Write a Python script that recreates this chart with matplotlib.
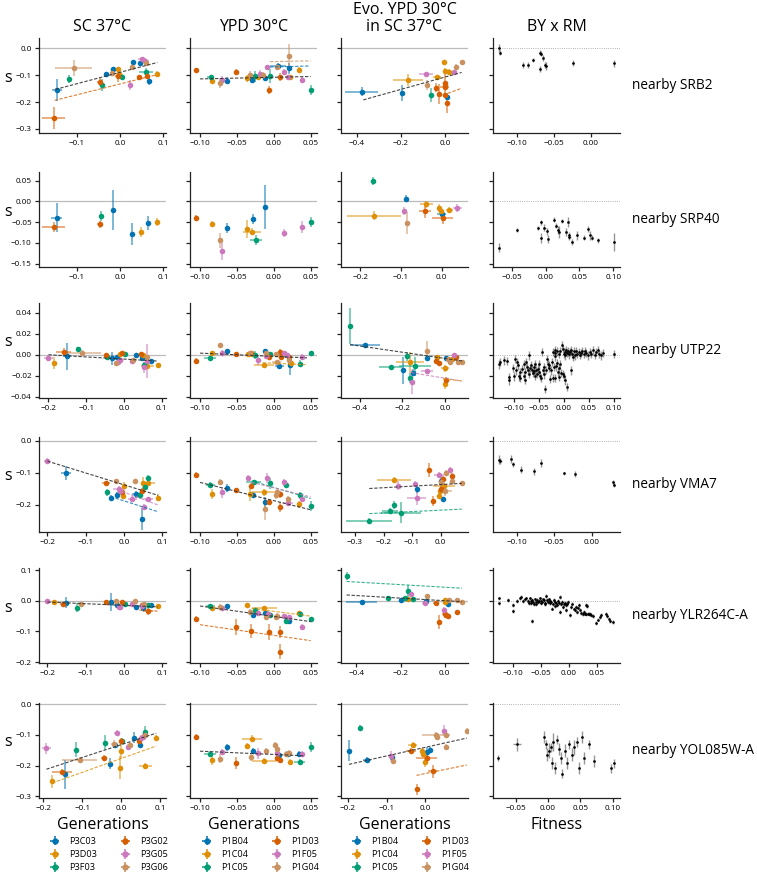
import numpy as np
import matplotlib
matplotlib.use('Agg')
import matplotlib.pyplot as plt
from matplotlib.ticker import FuncFormatter

plt.rcParams['font.family'] = ['Open Sans', 'DejaVu Sans']

W, H = 757, 876

strain_colors = {'b': '#0173B2', 'o': '#DE8F05', 'g': '#029E73',
                 'r': '#D55E00', 'p': '#CC78BC', 't': '#CA9161', 'k': '#333333'}

col_titles = ['SC 37°C', 'YPD 30°C', 'Evo. YPD 30°C\nin SC 37°C', 'BY x RM']
row_names = ['nearby SRB2', 'nearby SRP40', 'nearby UTP22', 'nearby VMA7',
             'nearby YLR264C-A', 'nearby YOL085W-A']
legend_p3 = ['P3C03', 'P3D03', 'P3F03', 'P3G02', 'P3G05', 'P3G06']
legend_p1 = ['P1B04', 'P1C04', 'P1C05', 'P1D03', 'P1F05', 'P1G04']
legend_keys = ['b', 'o', 'g', 'r', 'p', 't']

# (strain, x, y, xerr, yerr)
srb2_sc = [('b', -0.147, -0.155, 0.012, 0.042), ('r', -0.154, -0.26, 0.026, 0.041),
           ('t', -0.108, -0.074, 0.043, 0.031), ('g', -0.119, -0.114, 0.004, 0.015),
           ('r', -0.047, -0.126, 0.007, 0.015), ('g', -0.043, -0.136, 0.004, 0.022),
           ('b', -0.033, -0.095, 0.004, 0.008), ('t', -0.019, -0.093, 0.004, 0.008),
           ('b', -0.017, -0.077, 0.003, 0.008), ('o', -0.004, -0.077, 0.003, 0.008),
           ('o', -0.002, -0.095, 0.004, 0.01), ('r', -0.004, -0.105, 0.009, 0.022),
           ('g', 0.003, -0.106, 0.003, 0.01), ('p', 0.022, -0.136, 0.004, 0.019),
           ('t', 0.028, -0.068, 0.004, 0.01), ('b', 0.029, -0.051, 0.003, 0.008),
           ('r', 0.043, -0.108, 0.004, 0.01), ('b', 0.045, -0.056, 0.003, 0.008),
           ('p', 0.051, -0.041, 0.009, 0.008), ('p', 0.058, -0.047, 0.009, 0.008),
           ('t', 0.06, -0.056, 0.004, 0.01), ('g', 0.06, -0.087, 0.016, 0.012),
           ('r', 0.063, -0.103, 0.004, 0.01), ('b', 0.067, -0.12, 0.003, 0.015),
           ('o', 0.086, -0.095, 0.004, 0.01)]
srb2_ypd = [('r', -0.105, -0.081, 0.002, 0.008), ('g', -0.0856, -0.108, 0.005, 0.008),
            ('o', -0.084, -0.12, 0.002, 0.01), ('t', -0.073, -0.128, 0.003, 0.019),
            ('p', -0.07, -0.118, 0.002, 0.015), ('b', -0.0634, -0.12, 0.002, 0.012),
            ('r', -0.051, -0.089, 0.003, 0.01), ('o', -0.036, -0.112, 0.003, 0.012),
            ('t', -0.032, -0.1, 0.002, 0.015), ('b', -0.029, -0.118, 0.002, 0.012),
            ('g', -0.026, -0.105, 0.003, 0.02), ('o', -0.021, -0.108, 0.004, 0.01),
            ('p', -0.019, -0.097, 0.002, 0.015), ('t', -0.0145, -0.099, 0.002, 0.01),
            ('b', -0.012, -0.112, 0.002, 0.01), ('p', -0.0086, -0.071, 0.002, 0.01),
            ('g', -0.0054, -0.103, 0.002, 0.025), ('r', -0.0064, -0.155, 0.002, 0.015),
            ('b', 0.006, -0.066, 0.011, 0.01), ('t', 0.004, -0.07, 0.003, 0.01),
            ('r', 0.009, -0.108, 0.003, 0.015), ('p', 0.0136, -0.088, 0.002, 0.01),
            ('t', 0.0204, -0.029, 0.003, 0.045), ('b', 0.0208, -0.075, 0.002, 0.02),
            ('p', 0.0195, -0.108, 0.002, 0.01), ('o', 0.022, -0.108, 0.003, 0.01),
            ('o', 0.034, -0.081, 0.002, 0.01), ('p', 0.0376, -0.118, 0.002, 0.01),
            ('g', 0.05, -0.155, 0.002, 0.018)]
srb2_evo = [('b', -0.377, -0.161, 0.075, 0.018), ('b', -0.196, -0.165, 0.009, 0.03),
            ('o', -0.166, -0.118, 0.068, 0.022), ('p', -0.086, -0.096, 0.03, 0.008),
            ('t', -0.083, -0.136, 0.008, 0.018), ('g', -0.065, -0.174, 0.006, 0.026),
            ('r', -0.041, -0.146, 0.008, 0.015), ('o', -0.035, -0.108, 0.018, 0.01),
            ('r', -0.026, -0.17, 0.01, 0.037), ('o', -0.005, -0.051, 0.005, 0.008),
            ('o', 0.0, -0.083, 0.005, 0.01), ('r', 0.0, -0.13, 0.005, 0.033),
            ('r', 0.0, -0.145, 0.02, 0.01), ('o', 0.002, -0.136, 0.008, 0.015),
            ('r', 0.001, -0.174, 0.008, 0.01), ('b', 0.01, -0.18, 0.005, 0.01),
            ('r', 0.012, -0.205, 0.006, 0.037), ('o', 0.017, -0.088, 0.005, 0.01),
            ('p', 0.041, -0.09, 0.008, 0.008), ('t', 0.05, -0.068, 0.008, 0.01),
            ('t', 0.077, -0.051, 0.005, 0.008)]

srp40_sc = [('b', -0.147, -0.039, 0.012, 0.035), ('r', -0.154, -0.062, 0.026, 0.012),
            ('g', -0.043, -0.036, 0.003, 0.012), ('r', -0.047, -0.055, 0.006, 0.008),
            ('b', -0.017, -0.02, 0.003, 0.048), ('b', 0.029, -0.078, 0.003, 0.027),
            ('o', 0.049, -0.073, 0.003, 0.012), ('b', 0.066, -0.052, 0.003, 0.018),
            ('o', 0.086, -0.05, 0.003, 0.01)]
srp40_ypd = [('r', -0.105, -0.04, 0.002, 0.008), ('o', -0.084, -0.054, 0.002, 0.008),
             ('b', -0.064, -0.064, 0.002, 0.012), ('t', -0.073, -0.094, 0.002, 0.017),
             ('p', -0.07, -0.119, 0.002, 0.022), ('o', -0.036, -0.066, 0.002, 0.022),
             ('o', -0.0295, -0.073, 0.012, 0.008), ('b', -0.028, -0.043, 0.002, 0.012),
             ('g', -0.0245, -0.092, 0.008, 0.012), ('b', -0.012, -0.013, 0.002, 0.053),
             ('p', 0.014, -0.076, 0.002, 0.01), ('p', 0.038, -0.062, 0.002, 0.015),
             ('g', 0.05, -0.05, 0.002, 0.012)]
srp40_evo = [('g', -0.168, 0.05, 0.004, 0.01), ('o', -0.166, -0.034, 0.067, 0.01),
             ('b', -0.088, 0.007, 0.004, 0.008), ('p', -0.093, -0.023, 0.004, 0.01),
             ('t', -0.084, -0.052, 0.004, 0.027), ('o', -0.037, -0.007, 0.015, 0.008),
             ('r', -0.041, -0.024, 0.015, 0.015), ('o', -0.006, -0.015, 0.004, 0.01),
             ('o', -0.002, -0.024, 0.004, 0.008), ('b', 0.0, -0.03, 0.012, 0.008),
             ('r', 0.0025, -0.039, 0.026, 0.015), ('o', 0.019, -0.02, 0.008, 0.006),
             ('p', 0.039, -0.015, 0.012, 0.01)]

utp22_sc = [('p', -0.2, -0.003, 0.011, 0.003), ('o', -0.184, -0.008, 0.003, 0.006),
            ('r', -0.16, 0.003, 0.02, 0.003), ('b', -0.151, -0.0016, 0.011, 0.013),
            ('g', -0.123, 0.005, 0.003, 0.002), ('t', -0.111, 0.0015, 0.051, 0.003),
            ('r', -0.047, -0.0007, 0.005, 0.002), ('g', -0.045, -0.002, 0.003, 0.002),
            ('b', -0.033, -0.0035, 0.003, 0.0065), ('t', -0.02, -0.008, 0.003, 0.002),
            ('b', -0.018, -0.0025, 0.003, 0.002), ('p', -0.015, -0.007, 0.004, 0.003),
            ('p', -0.01, -0.005, 0.004, 0.003), ('o', -0.01, 0.001, 0.003, 0.002),
            ('r', -0.005, 0.0015, 0.003, 0.002), ('g', 0.003, 0.001, 0.003, 0.002),
            ('b', 0.031, -0.0007, 0.003, 0.002), ('t', 0.025, -0.005, 0.003, 0.002),
            ('p', 0.02, -0.006, 0.003, 0.002), ('r', 0.046, 0.001, 0.003, 0.002),
            ('b', 0.047, -0.003, 0.003, 0.002), ('o', 0.05, 0.0, 0.003, 0.002),
            ('p', 0.052, -0.012, 0.003, 0.005), ('g', 0.054, -0.01, 0.003, 0.003),
            ('p', 0.062, -0.006, 0.003, 0.016), ('o', 0.062, -0.011, 0.016, 0.003),
            ('t', 0.062, -0.002, 0.003, 0.002), ('b', 0.071, -0.006, 0.003, 0.002),
            ('o', 0.089, -0.01, 0.003, 0.002)]
utp22_ypd = [('r', -0.105, -0.006, 0.002, 0.003), ('g', -0.086, -0.003, 0.008, 0.002),
             ('o', -0.084, 0.0015, 0.002, 0.002), ('t', -0.073, 0.009, 0.002, 0.002),
             ('p', -0.07, 0.0015, 0.002, 0.003), ('b', -0.063, 0.0035, 0.002, 0.002),
             ('r', -0.051, 0.001, 0.002, 0.002), ('o', -0.035, 0.001, 0.003, 0.002),
             ('t', -0.032, 0.002, 0.002, 0.002), ('r', -0.031, 0.0015, 0.002, 0.002),
             ('o', -0.03, 0.0005, 0.003, 0.002), ('g', -0.026, 0.0, 0.002, 0.004),
             ('p', -0.021, -0.005, 0.002, 0.005), ('o', -0.0132, -0.01, 0.014, 0.002),
             ('b', -0.012, 0.0035, 0.002, 0.002), ('t', -0.011, 0.002, 0.002, 0.002),
             ('p', -0.01, -0.0015, 0.002, 0.002), ('g', -0.005, 0.001, 0.002, 0.002),
             ('r', -0.006, -0.002, 0.002, 0.002), ('t', 0.0025, 0.001, 0.002, 0.002),
             ('t', 0.004, -0.007, 0.006, 0.002), ('b', 0.0072, -0.0105, 0.006, 0.002),
             ('r', 0.008, 0.003, 0.002, 0.002), ('r', 0.0095, -0.002, 0.002, 0.003),
             ('p', 0.0136, 0.0015, 0.002, 0.002), ('g', 0.016, -0.0007, 0.002, 0.002),
             ('p', 0.018, 0.0, 0.002, 0.002), ('r', 0.02, -0.002, 0.002, 0.002),
             ('t', 0.021, -0.005, 0.002, 0.003), ('b', 0.0217, -0.0102, 0.002, 0.009),
             ('o', 0.0235, -0.008, 0.004, 0.002), ('g', 0.035, -0.0085, 0.002, 0.003),
             ('p', 0.0376, -0.002, 0.002, 0.003), ('g', 0.05, 0.0015, 0.002, 0.002)]
utp22_evo = [('g', -0.445, 0.027, 0.004, 0.017), ('b', -0.377, 0.0095, 0.07, 0.002),
             ('g', -0.256, -0.012, 0.055, 0.002), ('b', -0.197, -0.015, 0.009, 0.013),
             ('g', -0.181, -0.0016, 0.009, 0.004), ('o', -0.166, -0.007, 0.065, 0.01),
             ('g', -0.167, -0.022, 0.006, 0.005), ('g', -0.143, -0.011, 0.075, 0.009),
             ('b', -0.152, -0.017, 0.006, 0.003), ('p', -0.155, -0.026, 0.006, 0.011),
             ('p', -0.085, -0.0156, 0.028, 0.002), ('t', -0.085, 0.004, 0.006, 0.0095),
             ('b', -0.085, -0.003, 0.006, 0.002), ('o', -0.036, -0.002, 0.006, 0.002),
             ('r', -0.045, -0.006, 0.006, 0.002), ('r', -0.028, -0.008, 0.006, 0.002),
             ('b', 0.003, -0.003, 0.006, 0.002), ('o', 0.0, -0.013, 0.02, 0.003),
             ('r', 0.005, -0.0245, 0.006, 0.003), ('o', 0.0, -0.0275, 0.006, 0.005),
             ('t', 0.015, -0.004, 0.006, 0.002), ('t', 0.025, -0.007, 0.006, 0.002),
             ('o', 0.03, -0.004, 0.006, 0.002), ('p', 0.04, 0.0, 0.006, 0.002),
             ('r', 0.053, -0.002, 0.006, 0.002), ('t', 0.058, -0.007, 0.006, 0.002),
             ('t', 0.078, -0.007, 0.006, 0.002)]

vma7_sc = [('p', -0.2, -0.064, 0.008, 0.01), ('b', -0.151, -0.1015, 0.013, 0.021),
           ('r', -0.047, -0.133, 0.011, 0.008), ('g', -0.044, -0.161, 0.004, 0.01),
           ('b', -0.033, -0.177, 0.004, 0.008), ('t', -0.02, -0.127, 0.004, 0.008),
           ('b', -0.018, -0.169, 0.004, 0.008), ('p', -0.013, -0.151, 0.016, 0.01),
           ('p', -0.01, -0.158, 0.004, 0.01), ('r', -0.006, -0.161, 0.004, 0.01),
           ('o', -0.003, -0.171, 0.004, 0.01), ('o', 0.0, -0.14, 0.004, 0.01),
           ('p', 0.022, -0.182, 0.011, 0.01), ('b', 0.031, -0.167, 0.011, 0.01),
           ('t', 0.028, -0.127, 0.004, 0.008), ('g', 0.042, -0.17, 0.004, 0.01),
           ('r', 0.046, -0.158, 0.004, 0.01), ('o', 0.051, -0.133, 0.004, 0.02),
           ('g', 0.054, -0.144, 0.004, 0.01), ('b', 0.047, -0.245, 0.004, 0.034),
           ('p', 0.052, -0.207, 0.004, 0.01), ('g', 0.062, -0.116, 0.004, 0.008),
           ('o', 0.062, -0.132, 0.018, 0.01), ('p', 0.062, -0.182, 0.013, 0.008),
           ('o', 0.089, -0.177, 0.004, 0.01)]
vma7_ypd = [('r', -0.105, -0.1057, 0.002, 0.008), ('g', -0.086, -0.137, 0.006, 0.008),
            ('o', -0.084, -0.167, 0.002, 0.016), ('t', -0.073, -0.128, 0.002, 0.01),
            ('p', -0.07, -0.161, 0.002, 0.016), ('b', -0.063, -0.148, 0.002, 0.013),
            ('r', -0.051, -0.154, 0.002, 0.008), ('p', -0.035, -0.116, 0.002, 0.008),
            ('r', -0.031, -0.141, 0.002, 0.008), ('o', -0.0326, -0.165, 0.002, 0.022),
            ('g', -0.027, -0.13, 0.01, 0.008), ('b', -0.028, -0.169, 0.002, 0.01),
            ('p', -0.009, -0.116, 0.002, 0.016), ('o', -0.013, -0.161, 0.016, 0.01),
            ('b', -0.012, -0.19, 0.002, 0.016), ('t', -0.012, -0.214, 0.002, 0.032),
            ('g', -0.005, -0.133, 0.002, 0.016), ('r', -0.006, -0.19, 0.002, 0.01),
            ('t', 0.0025, -0.17, 0.002, 0.01), ('t', 0.005, -0.161, 0.002, 0.01),
            ('r', 0.008, -0.167, 0.002, 0.01), ('r', 0.009, -0.207, 0.002, 0.016),
            ('p', 0.0136, -0.13, 0.002, 0.01), ('g', 0.016, -0.137, 0.002, 0.01),
            ('t', 0.0195, -0.182, 0.002, 0.01), ('p', 0.0195, -0.193, 0.007, 0.01),
            ('o', 0.034, -0.198, 0.002, 0.01), ('g', 0.035, -0.17, 0.002, 0.01),
            ('p', 0.0376, -0.182, 0.002, 0.01), ('g', 0.05, -0.203, 0.002, 0.016)]
vma7_evo = [('g', -0.25, -0.249, 0.081, 0.01), ('o', -0.164, -0.122, 0.06, 0.008),
            ('p', -0.149, -0.14, 0.006, 0.015), ('g', -0.178, -0.219, 0.028, 0.008),
            ('g', -0.164, -0.2, 0.006, 0.013), ('g', -0.14, -0.224, 0.07, 0.032),
            ('p', -0.09, -0.135, 0.006, 0.008), ('b', -0.084, -0.149, 0.006, 0.013),
            ('p', -0.084, -0.179, 0.032, 0.022), ('r', -0.04, -0.091, 0.006, 0.022),
            ('r', -0.026, -0.188, 0.006, 0.015), ('p', -0.005, -0.107, 0.017, 0.008),
            ('o', -0.005, -0.172, 0.006, 0.008), ('o', -0.002, -0.157, 0.006, 0.01),
            ('b', 0.001, -0.125, 0.006, 0.015), ('r', 0.0025, -0.149, 0.006, 0.008),
            ('t', 0.002, -0.13, 0.006, 0.008), ('r', 0.008, -0.118, 0.006, 0.008),
            ('b', 0.008, -0.183, 0.006, 0.008), ('o', 0.013, -0.14, 0.038, 0.008),
            ('t', 0.016, -0.157, 0.024, 0.015), ('t', 0.018, -0.1, 0.006, 0.008),
            ('p', 0.032, -0.091, 0.006, 0.008), ('r', 0.04, -0.109, 0.006, 0.008),
            ('t', 0.04, -0.127, 0.006, 0.008), ('t', 0.076, -0.133, 0.006, 0.008)]

ylr_sc = [('p', -0.2, -0.001, 0.006, 0.005), ('o', -0.182, -0.005, 0.004, 0.005),
          ('r', -0.16, -0.011, 0.006, 0.005), ('b', -0.151, -0.007, 0.006, 0.018),
          ('g', -0.123, -0.022, 0.004, 0.016), ('t', -0.111, -0.011, 0.01, 0.005),
          ('r', -0.047, -0.005, 0.006, 0.005), ('b', -0.033, -0.003, 0.004, 0.029),
          ('t', -0.02, 0.0, 0.004, 0.005), ('b', -0.018, -0.013, 0.004, 0.005),
          ('p', -0.013, -0.02, 0.004, 0.005), ('p', -0.01, -0.02, 0.004, 0.005),
          ('r', -0.006, -0.005, 0.004, 0.005), ('g', 0.003, -0.011, 0.004, 0.005),
          ('p', 0.022, -0.011, 0.004, 0.005), ('b', 0.031, -0.02, 0.004, 0.005),
          ('t', 0.028, 0.0, 0.004, 0.005), ('r', 0.046, -0.014, 0.004, 0.005),
          ('p', 0.048, -0.018, 0.004, 0.005), ('b', 0.05, -0.024, 0.004, 0.005),
          ('t', 0.052, -0.009, 0.004, 0.005), ('g', 0.062, -0.014, 0.004, 0.005),
          ('r', 0.064, -0.033, 0.013, 0.012), ('b', 0.071, -0.014, 0.004, 0.005),
          ('o', 0.089, -0.017, 0.004, 0.005)]
ylr_ypd = [('r', -0.105, -0.058, 0.002, 0.008), ('g', -0.086, -0.0175, 0.006, 0.008),
           ('o', -0.084, -0.025, 0.002, 0.008), ('t', -0.073, -0.02, 0.002, 0.008),
           ('p', -0.07, -0.025, 0.002, 0.008), ('b', -0.063, -0.017, 0.002, 0.008),
           ('r', -0.051, -0.086, 0.002, 0.027), ('o', -0.036, -0.015, 0.002, 0.008),
           ('t', -0.032, -0.035, 0.002, 0.008), ('r', -0.031, -0.1, 0.002, 0.023),
           ('b', -0.028, -0.045, 0.002, 0.008), ('g', -0.026, -0.031, 0.002, 0.008),
           ('p', -0.021, -0.04, 0.002, 0.008), ('o', -0.0132, -0.025, 0.017, 0.008),
           ('b', -0.012, -0.04, 0.002, 0.008), ('t', -0.011, -0.054, 0.002, 0.008),
           ('p', -0.008, -0.042, 0.002, 0.008), ('r', -0.006, -0.102, 0.002, 0.026),
           ('g', -0.005, -0.046, 0.002, 0.008), ('t', 0.0025, -0.054, 0.002, 0.008),
           ('t', 0.005, -0.048, 0.002, 0.008), ('r', 0.009, -0.102, 0.002, 0.02),
           ('r', 0.008, -0.166, 0.002, 0.025), ('p', 0.0136, -0.051, 0.002, 0.008),
           ('g', 0.016, -0.066, 0.002, 0.008), ('b', 0.018, -0.064, 0.002, 0.008),
           ('b', 0.02, -0.066, 0.002, 0.008), ('p', 0.021, -0.053, 0.002, 0.008),
           ('o', 0.034, -0.04, 0.002, 0.008), ('g', 0.035, -0.042, 0.002, 0.008),
           ('p', 0.0376, -0.084, 0.002, 0.008), ('g', 0.05, -0.06, 0.002, 0.008)]
ylr_evo = [('g', -0.445, 0.081, 0.004, 0.012), ('b', -0.377, -0.005, 0.07, 0.008),
           ('g', -0.256, 0.008, 0.006, 0.006), ('g', -0.181, 0.008, 0.006, 0.006),
           ('b', -0.197, 0.003, 0.006, 0.006), ('g', -0.167, 0.033, 0.006, 0.02),
           ('p', -0.155, 0.021, 0.006, 0.008), ('g', -0.143, 0.005, 0.006, 0.006),
           ('o', -0.166, 0.005, 0.006, 0.006), ('b', -0.085, 0.0, 0.006, 0.006),
           ('p', -0.088, -0.006, 0.015, 0.006), ('t', -0.082, 0.015, 0.006, 0.006),
           ('r', -0.04, -0.007, 0.015, 0.006), ('o', 0.0, 0.002, 0.006, 0.006),
           ('b', 0.013, -0.012, 0.006, 0.008), ('r', -0.026, -0.069, 0.006, 0.024),
           ('p', -0.005, -0.029, 0.006, 0.008), ('r', 0.0, -0.043, 0.012, 0.012),
           ('r', 0.006, -0.046, 0.006, 0.008), ('r', 0.014, -0.051, 0.006, 0.008),
           ('o', 0.003, -0.003, 0.006, 0.006), ('t', 0.02, 0.002, 0.006, 0.006),
           ('r', 0.053, -0.038, 0.006, 0.008), ('t', 0.053, 0.004, 0.006, 0.006),
           ('t', 0.078, -0.003, 0.006, 0.006)]

yol_sc = [('p', -0.192, -0.144, 0.012, 0.017), ('o', -0.177, -0.252, 0.005, 0.02),
          ('r', -0.152, -0.221, 0.026, 0.01), ('b', -0.145, -0.229, 0.006, 0.046),
          ('g', -0.117, -0.148, 0.004, 0.024), ('t', -0.106, -0.181, 0.045, 0.01),
          ('g', -0.041, -0.125, 0.004, 0.024), ('r', -0.044, -0.175, 0.008, 0.01),
          ('b', -0.03, -0.194, 0.004, 0.018), ('t', -0.018, -0.128, 0.008, 0.01),
          ('b', -0.016, -0.132, 0.004, 0.01), ('p', -0.011, -0.092, 0.008, 0.008),
          ('o', 0.0, -0.152, 0.004, 0.028), ('o', -0.003, -0.207, 0.004, 0.038),
          ('r', -0.001, -0.12, 0.004, 0.01), ('g', 0.001, -0.12, 0.004, 0.01),
          ('p', 0.018, -0.138, 0.004, 0.01), ('t', 0.023, -0.133, 0.004, 0.01),
          ('b', 0.032, -0.109, 0.004, 0.018), ('r', 0.045, -0.12, 0.004, 0.01),
          ('b', 0.047, -0.133, 0.004, 0.01), ('p', 0.052, -0.109, 0.004, 0.01),
          ('p', 0.056, -0.105, 0.004, 0.01), ('g', 0.062, -0.089, 0.004, 0.017),
          ('t', 0.062, -0.1, 0.004, 0.01), ('o', 0.062, -0.2, 0.016, 0.01),
          ('o', 0.09, -0.11, 0.004, 0.01)]
yol_ypd = [('r', -0.105, -0.106, 0.002, 0.01), ('g', -0.086, -0.163, 0.008, 0.01),
           ('o', -0.084, -0.181, 0.002, 0.017), ('t', -0.073, -0.178, 0.002, 0.015),
           ('p', -0.07, -0.155, 0.002, 0.01), ('b', -0.063, -0.14, 0.002, 0.012),
           ('r', -0.051, -0.192, 0.002, 0.02), ('o', -0.036, -0.136, 0.002, 0.01),
           ('o', -0.0295, -0.112, 0.014, 0.012), ('t', -0.031, -0.173, 0.002, 0.012),
           ('b', -0.028, -0.152, 0.002, 0.01), ('p', -0.021, -0.16, 0.002, 0.017),
           ('o', -0.0132, -0.185, 0.017, 0.01), ('t', -0.011, -0.152, 0.002, 0.01),
           ('t', 0.002, -0.133, 0.002, 0.01), ('t', 0.005, -0.145, 0.002, 0.01),
           ('p', 0.005, -0.16, 0.002, 0.01), ('r', 0.004, -0.174, 0.002, 0.01),
           ('b', 0.007, -0.166, 0.002, 0.01), ('r', 0.009, -0.181, 0.002, 0.01),
           ('t', 0.017, -0.163, 0.002, 0.01), ('b', 0.0195, -0.163, 0.002, 0.01),
           ('o', 0.0225, -0.189, 0.002, 0.01), ('t', 0.02, -0.158, 0.002, 0.01),
           ('g', 0.035, -0.189, 0.007, 0.01), ('b', 0.034, -0.163, 0.002, 0.01),
           ('p', 0.0376, -0.163, 0.002, 0.01), ('g', 0.05, -0.14, 0.002, 0.017)]
yol_evo = [('b', -0.1975, -0.152, 0.004, 0.034), ('g', -0.169, -0.077, 0.003, 0.008),
           ('b', -0.1515, -0.181, 0.01, 0.01), ('p', -0.09, -0.169, 0.004, 0.017),
           ('b', -0.085, -0.173, 0.004, 0.01), ('t', -0.0825, -0.184, 0.004, 0.01),
           ('o', -0.033, -0.134, 0.012, 0.01), ('r', -0.037, -0.151, 0.012, 0.01),
           ('r', -0.023, -0.278, 0.004, 0.017), ('o', -0.008, -0.151, 0.004, 0.01),
           ('o', -0.005, -0.163, 0.004, 0.01), ('o', 0.0, -0.187, 0.004, 0.017),
           ('r', 0.003, -0.175, 0.027, 0.01), ('b', 0.005, -0.155, 0.004, 0.017),
           ('b', 0.0115, -0.15, 0.004, 0.01), ('r', 0.0185, -0.219, 0.012, 0.02),
           ('t', 0.027, -0.1, 0.037, 0.01), ('t', 0.03, -0.107, 0.004, 0.01),
           ('p', 0.0475, -0.086, 0.004, 0.017), ('t', 0.052, -0.1, 0.004, 0.01),
           ('t', 0.054, -0.138, 0.004, 0.01), ('t', 0.107, -0.086, 0.004, 0.01)]

# (x, y, xerr, yerr) for the BY x RM column
srb2_by = [(-0.124, 0.0, 0.001, 0.015), (-0.122, -0.016, 0.001, 0.008), (-0.092, -0.062, 0.001, 0.011),
           (-0.085, -0.062, 0.001, 0.011), (-0.0775, -0.043, 0.001, 0.008), (-0.0685, -0.016, 0.001, 0.008),
           (-0.067, -0.02, 0.001, 0.008), (-0.065, -0.037, 0.001, 0.01), (-0.069, -0.078, 0.001, 0.011),
           (-0.062, -0.062, 0.002, 0.011), (-0.06, -0.065, 0.001, 0.015), (-0.024, -0.056, 0.001, 0.011),
           (0.031, -0.056, 0.001, 0.012)]
srp40_by = [(-0.069, -0.111, 0.001, 0.01), (-0.043, -0.068, 0.001, 0.005), (-0.012, -0.063, 0.001, 0.005),
            (-0.007, -0.05, 0.001, 0.006), (-0.007, -0.088, 0.001, 0.012), (-0.002, -0.063, 0.002, 0.008),
            (0.0024, -0.072, 0.001, 0.008), (0.003, -0.09, 0.001, 0.01), (0.012, -0.044, 0.001, 0.006),
            (0.015, -0.059, 0.001, 0.006), (0.018, -0.068, 0.001, 0.01), (0.019, -0.074, 0.001, 0.014),
            (0.024, -0.048, 0.001, 0.005), (0.03, -0.074, 0.001, 0.01), (0.033, -0.05, 0.001, 0.012),
            (0.034, -0.082, 0.001, 0.008), (0.035, -0.086, 0.002, 0.006), (0.039, -0.098, 0.001, 0.008),
            (0.046, -0.082, 0.001, 0.01), (0.057, -0.088, 0.001, 0.006), (0.063, -0.066, 0.001, 0.008),
            (0.066, -0.082, 0.001, 0.01), (0.068, -0.088, 0.001, 0.006), (0.077, -0.094, 0.001, 0.005),
            (0.101, -0.098, 0.001, 0.022)]
utp22_by_x = [-0.129, -0.127, -0.120, -0.113, -0.110, -0.110, -0.101, -0.100, -0.097, -0.095,
              -0.093, -0.091, -0.090, -0.088, -0.087, -0.083, -0.080, -0.078, -0.077, -0.079,
              -0.075, -0.073, -0.071, -0.070, -0.069, -0.067, -0.065, -0.063, -0.062, -0.060,
              -0.059, -0.058, -0.057, -0.055, -0.053, -0.052, -0.050, -0.049, -0.047, -0.045,
              -0.043, -0.042, -0.040, -0.039, -0.037, -0.035, -0.033, -0.031, -0.030, -0.029,
              -0.027, -0.025, -0.023, -0.021, -0.020, -0.018, -0.017, -0.015, -0.013, -0.011,
              -0.010, -0.009, -0.007, -0.005, -0.002, 0.000, 0.003, 0.007, 0.015,
              -0.021, -0.018, -0.017, -0.013, -0.010, -0.007, -0.003, -0.001, 0.000, 0.002,
              0.003, 0.005, 0.007, 0.009, 0.010, 0.012, 0.014, 0.017, 0.019, 0.020,
              0.023, 0.025, 0.027, 0.030, 0.032, 0.034, 0.036, 0.040, 0.042, 0.045,
              0.048, 0.052, 0.054, 0.059, 0.062, 0.065, 0.068, 0.071, 0.075, 0.078, 0.100]
utp22_by_y = [-0.0093, -0.0071, -0.0055, -0.0061, -0.0213, -0.0245, -0.0125, -0.0207, -0.0039, -0.0150,
              -0.0071, -0.0102, -0.0207, -0.0166, -0.0220, -0.0134, -0.0198, -0.0166, -0.0239, -0.0093,
              -0.0071, -0.0118, -0.0150, -0.0182, -0.0007, -0.0125, -0.0102, -0.0144, -0.0175, -0.0118,
              -0.0156, -0.0198, -0.0086, -0.0150, -0.0182, -0.0134, -0.0093, -0.0166, -0.0198, -0.0220,
              0.0025, -0.0150, -0.0118, -0.0188, -0.0325, -0.0144, -0.0039, -0.0086, -0.0125, -0.0102,
              -0.0229, -0.0150, -0.0071, -0.0223, -0.0118, -0.0017, -0.0220, -0.0112, -0.0080, -0.0166,
              -0.0125, -0.0213, -0.0093, -0.0175, -0.0182, -0.0207, -0.0245, -0.0309, -0.0150,
              0.0025, 0.0041, 0.0015, 0.0031, 0.0009, 0.0034, 0.0088, 0.0056, 0.0009, 0.0025,
              -0.0007, 0.0041, 0.0015, 0.0031, 0.0002, 0.0025, 0.0047, 0.0009, -0.0023, 0.0031,
              -0.0007, 0.0031, 0.0009, 0.0025, -0.0001, 0.0015, 0.0034, 0.0009, 0.0031, 0.0015,
              -0.0007, 0.0025, 0.0009, 0.0041, -0.0001, 0.0025, 0.0047, 0.0009, -0.0007, 0.0015, 0.0009]
vma7_by = [(-0.1236, -0.059, 0.002, 0.013), (-0.122, -0.063, 0.002, 0.01), (-0.108, -0.058, 0.001, 0.013),
           (-0.105, -0.074, 0.001, 0.008), (-0.0947, -0.09, 0.001, 0.01), (-0.077, -0.095, 0.001, 0.011),
           (-0.0676, -0.07, 0.001, 0.013), (-0.0373, -0.1015, 0.001, 0.005), (-0.022, -0.1035, 0.001, 0.01),
           (0.029, -0.13, 0.001, 0.008), (0.03, -0.137, 0.001, 0.008)]
ylr_by_x = [-0.1265, -0.1259, -0.1097, -0.1007, -0.1007, -0.0935, -0.0887, -0.0857, -0.0827, -0.0797,
            -0.0767, -0.0737, -0.0719, -0.0707, -0.0689, -0.0677, -0.0659, -0.0647, -0.0629, -0.0617,
            -0.0599, -0.0587, -0.0575, -0.0557, -0.0539, -0.0527, -0.0509, -0.0497, -0.0479, -0.0467,
            -0.0449, -0.0437, -0.0425, -0.0407, -0.0395, -0.0377, -0.0359, -0.0347, -0.0335, -0.0317,
            -0.0299, -0.0287, -0.0275, -0.0257, -0.0245, -0.0227, -0.0209, -0.0197, -0.0179, -0.0167,
            -0.0155, -0.0137, -0.0119, -0.0107, -0.0089, -0.0077, -0.0059, -0.0047, -0.0029, -0.0017,
            0.0013, 0.0043, 0.0061, 0.0084, 0.0102, 0.0120, 0.0144, 0.0162, 0.0180, 0.0204,
            0.0222, 0.0252, 0.0264, 0.0282, 0.0300, 0.0312, 0.0324, 0.0342, 0.0360, 0.0384,
            0.0402, 0.0432, 0.0492, 0.0522, 0.0552, 0.0582, 0.0660, 0.0690, 0.0720, 0.0744,
            0.0792, -0.0659]
ylr_by_y = [0.0078, -0.0087, 0.0023, -0.0142, -0.0329, 0.0001, 0.0078, 0.0133, 0.0001, 0.0045,
            0.0078, 0.0001, -0.0065, 0.0078, 0.0001, -0.0087, 0.0023, -0.0054, -0.0120, 0.0045,
            -0.0032, -0.0109, 0.0023, -0.0054, 0.0001, 0.0078, -0.0087, -0.0010, -0.0032, 0.0045,
            0.0023, -0.0065, -0.0109, 0.0155, 0.0023, -0.0032, 0.0045, -0.0087, 0.0001, -0.0043,
            -0.0252, -0.0109, 0.0023, -0.0032, -0.0175, -0.0087, -0.0142, 0.0001, -0.0065, -0.0362,
            0.0133, -0.0109, -0.0032, -0.0197, -0.0109, -0.0065, -0.0307, -0.0142, -0.0109, -0.0043,
            -0.0472, -0.0197, -0.0109, -0.0252, -0.0307, -0.0197, -0.0362, -0.0219, -0.0142, -0.0285,
            -0.0395, -0.0439, -0.0362, -0.0417, -0.0439, -0.0142, -0.0175, -0.0417, -0.0439, -0.0439,
            -0.0472, -0.0505, -0.0725, -0.0615, -0.0527, -0.0472, -0.0417, -0.0505, -0.0582, -0.0659,
            -0.0692, -0.0659]
yol_by = [(-0.077, -0.176, 0.001, 0.01), (-0.048, -0.131, 0.006, 0.02), (-0.006, -0.106, 0.001, 0.02),
          (-0.003, -0.13, 0.001, 0.015), (-0.0015, -0.164, 0.001, 0.02), (0.0015, -0.151, 0.001, 0.025),
          (0.0046, -0.14, 0.001, 0.015), (0.006, -0.192, 0.001, 0.02), (0.0077, -0.123, 0.001, 0.03),
          (0.011, -0.209, 0.001, 0.02), (0.014, -0.116, 0.001, 0.015), (0.017, -0.147, 0.001, 0.02),
          (0.02, -0.175, 0.001, 0.02), (0.0215, -0.227, 0.001, 0.015), (0.026, -0.151, 0.001, 0.02),
          (0.029, -0.192, 0.001, 0.02), (0.032, -0.13, 0.001, 0.015), (0.037, -0.164, 0.001, 0.02),
          (0.04, -0.14, 0.001, 0.025), (0.045, -0.123, 0.001, 0.015), (0.048, -0.209, 0.001, 0.02),
          (0.052, -0.106, 0.001, 0.02), (0.055, -0.175, 0.001, 0.02), (0.063, -0.13, 0.001, 0.015),
          (0.071, -0.185, 0.001, 0.02), (0.097, -0.209, 0.001, 0.015), (0.1015, -0.192, 0.001, 0.015)]

# dashed fits: (strain, slope, intercept, xmin, xmax)
srb2_fits = [[('k', 0.424, -0.0894, -0.15, 0.086), ('r', 0.404, -0.1326, -0.152, 0.083)],
             [('k', 0.06, -0.108, -0.1, 0.05), ('b', 0.075, -0.0696, -0.005, 0.048),
              ('t', 0.055, -0.0497, -0.005, 0.05)],
             [('k', 0.229, -0.1073, -0.37, 0.076), ('r', 0.298, -0.1716, -0.008, 0.076)]]
srp40_fits = [[], [], []]
utp22_fits = [[('k', -0.0208, -0.0042, -0.2, 0.089)],
              [('k', -0.031, -0.0016, -0.1, 0.045), ('o', -0.03, -0.00815, -0.015, 0.043)],
              [('k', -0.0297, -0.0036, -0.445, 0.08), ('p', -0.0336, -0.0224, -0.16, 0.078),
               ('o', -0.0227, -0.0232, -0.01, 0.078)]]
vma7_fits = [[('k', -0.367, -0.1374, -0.2, 0.089), ('b', -0.378, -0.1873, -0.022, 0.089),
              ('p', -0.449, -0.1601, -0.018, 0.089)],
             [('k', -0.567, -0.1867, -0.1, 0.05), ('g', -0.6875, -0.1456, -0.03, 0.05),
              ('p', -0.5625, -0.1469, -0.03, 0.05)],
             [('k', 0.049, -0.1367, -0.25, 0.074), ('g', 0.043, -0.2162, -0.25, 0.074)]]
ylr_fits = [[('k', -0.055, -0.015, -0.2, 0.089), ('r', -0.08, -0.0268, 0.04, 0.089)],
            [('k', -0.34, -0.051, -0.1, 0.05), ('r', -0.347, -0.1127, -0.1, 0.05),
             ('o', -0.3125, -0.0344, -0.03, 0.05)],
            [('k', -0.042, 0.0003, -0.445, 0.078), ('g', -0.042, 0.0443, -0.445, 0.078)]]
yol_fits = [[('k', 0.418, -0.1317, -0.192, 0.09), ('o', 0.453, -0.1768, -0.177, 0.09)],
            [('k', -0.107, -0.1637, -0.1, 0.04)],
            [('k', 0.282, -0.1403, -0.1975, 0.107), ('r', 0.26, -0.226, -0.023, 0.107)]]

row_points = [[srb2_sc, srb2_ypd, srb2_evo], [srp40_sc, srp40_ypd, srp40_evo],
              [utp22_sc, utp22_ypd, utp22_evo], [vma7_sc, vma7_ypd, vma7_evo],
              [ylr_sc, ylr_ypd, ylr_evo], [yol_sc, yol_ypd, yol_evo]]
row_fits = [srb2_fits, srp40_fits, utp22_fits, vma7_fits, ylr_fits, yol_fits]
row_by = [srb2_by, srp40_by,
          [(x, y, 0.001, 0.004) for x, y in zip(utp22_by_x, utp22_by_y)],
          vma7_by,
          [(x, y, 0.001, 0.006) for x, y in zip(ylr_by_x, ylr_by_y)],
          yol_by]

row_ylims = [(-0.315, 0.038), (-0.158, 0.071), (-0.0412, 0.0492),
             (-0.284, 0.011), (-0.203, 0.107), (-0.306, 0.0045)]
row_yticks = [[0.0, -0.1, -0.2, -0.3], [0.05, 0.0, -0.05, -0.10, -0.15],
              [0.04, 0.02, 0.0, -0.02, -0.04], [0.0, -0.1, -0.2],
              [0.1, 0.0, -0.1, -0.2], [0.0, -0.1, -0.2, -0.3]]
row_yfmt = ['%.1f', '%.2f', '%.2f', '%.1f', '%.1f', '%.1f']

panel_xlims = [[(-0.188, 0.106), (-0.1136, 0.0586), (-0.471, 0.105), (-0.132, 0.039)],
               [(-0.188, 0.107), (-0.1136, 0.0586), (-0.247, 0.065), (-0.078, 0.11)],
               [(-0.225, 0.111), (-0.1136, 0.0586), (-0.488, 0.107), (-0.141, 0.113)],
               [(-0.222, 0.11), (-0.1136, 0.0586), (-0.349, 0.096), (-0.132, 0.038)],
               [(-0.222, 0.11), (-0.1136, 0.0586), (-0.47, 0.105), (-0.1365, 0.092)],
               [(-0.211, 0.115), (-0.1136, 0.0586), (-0.218, 0.11), (-0.085, 0.111)]]
panel_xticks = [[[-0.1, 0.0, 0.1], [-0.10, -0.05, 0.0, 0.05], [-0.4, -0.2, 0.0], [-0.10, -0.05, 0.0]],
                [[-0.1, 0.0, 0.1], [-0.10, -0.05, 0.0, 0.05], [-0.2, -0.1, 0.0], [-0.05, 0.0, 0.05, 0.10]],
                [[-0.2, -0.1, 0.0, 0.1], [-0.10, -0.05, 0.0, 0.05], [-0.4, -0.2, 0.0],
                 [-0.10, -0.05, 0.0, 0.05, 0.10]],
                [[-0.2, -0.1, 0.0, 0.1], [-0.10, -0.05, 0.0, 0.05], [-0.3, -0.2, -0.1, 0.0],
                 [-0.10, -0.05, 0.0]],
                [[-0.2, -0.1, 0.0, 0.1], [-0.10, -0.05, 0.0, 0.05], [-0.4, -0.2, 0.0],
                 [-0.10, -0.05, 0.0, 0.05]],
                [[-0.2, -0.1, 0.0, 0.1], [-0.10, -0.05, 0.0, 0.05], [-0.2, -0.1, 0.0],
                 [-0.05, 0.0, 0.05, 0.10]]]
col_xfmt = ['%.1f', '%.2f', '%.1f', '%.2f']

col_left = [39, 190, 341, 493]
row_top = [38, 172, 303, 437, 568, 703]
ax_w, ax_h = 127, 95


def fmt_minus(f):
    return FuncFormatter(lambda v, pos: (f % v).replace('-', '\u2212'))


def draw_strains(ax, pts, fits):
    for key in legend_keys:
        sel = [p for p in pts if p[0] == key]
        if not sel:
            continue
        x = np.array([p[1] for p in sel])
        y = np.array([p[2] for p in sel])
        xe = np.array([p[3] for p in sel])
        ye = np.array([p[4] for p in sel])
        c = strain_colors[key]
        ax.errorbar(x, y, xerr=xe, yerr=ye, fmt='none', ecolor=c,
                    elinewidth=1.3, alpha=0.55, zorder=2)
        ax.plot(x, y, 'o', color=c, ms=4.0, mec='none', zorder=3)
    for key, slope, icpt, x0, x1 in fits:
        xs = np.array([x0, x1])
        ax.plot(xs, slope * xs + icpt, ls=(0, (3, 1.5)), lw=0.8,
                color=strain_colors[key], alpha=0.9 if key == 'k' else 0.8, zorder=4)


def draw_by(ax, pts):
    x = np.array([p[0] for p in pts])
    y = np.array([p[1] for p in pts])
    xe = np.array([p[2] for p in pts])
    ye = np.array([p[3] for p in pts])
    ax.errorbar(x, y, xerr=xe, yerr=ye, fmt='none', ecolor='0.25',
                elinewidth=1.0, alpha=0.55, zorder=2)
    ax.plot(x, y, 'o', color='k', ms=1.9, mec='none', zorder=3)


fig = plt.figure(figsize=(W / 100, H / 100), dpi=100)

for r in range(6):
    for c in range(4):
        ax = fig.add_axes([col_left[c] / W, 1 - (row_top[r] + ax_h) / H, ax_w / W, ax_h / H])
        for s in ['top', 'right']:
            ax.spines[s].set_visible(False)
        for s in ['left', 'bottom']:
            ax.spines[s].set_linewidth(0.9)
            ax.spines[s].set_color('#222222')
        if c < 3:
            ax.axhline(0, color='#bbbbbb', lw=0.9, zorder=1)
            draw_strains(ax, row_points[r][c], row_fits[r][c])
        else:
            ax.axhline(0, color='#999999', lw=0.6, ls=':', zorder=1)
            draw_by(ax, row_by[r])
        ax.set_ylim(*row_ylims[r])
        ax.set_yticks(row_yticks[r])
        ax.set_xlim(*panel_xlims[r][c])
        ax.set_xticks(panel_xticks[r][c])
        ax.xaxis.set_major_formatter(fmt_minus(col_xfmt[c]))
        ax.yaxis.set_major_formatter(fmt_minus(row_yfmt[r]))
        ax.tick_params(length=3.2, width=0.9, color='#222222', labelsize=5.9, pad=2)
        if c > 0:
            ax.tick_params(axis='y', labelleft=False)
        if c == 0:
            ax.set_ylabel('s', rotation=0, fontsize=11.5)
            ax.yaxis.set_label_coords(-0.245, 0.5)
        if r == 0:
            ax.set_title(col_titles[c], fontsize=11.5, pad=5, linespacing=1.05)
        if r == 5:
            ax.set_xlabel('Generations' if c < 3 else 'Fitness', fontsize=11.5)
            ax.xaxis.set_label_coords(0.5, -0.2)
    fig.text(632 / W, 1 - (row_top[r] + ax_h / 2) / H, row_names[r],
             fontsize=9.8, va='center', ha='left')

# legends under the first three columns
dummy = fig.add_axes([0, 0, 0.01, 0.01])
dummy.set_axis_off()
legend_left = [49, 201, 351]
for i, names in enumerate([legend_p3, legend_p1, legend_p1]):
    handles = []
    for key in legend_keys:
        h = dummy.errorbar([np.nan], [np.nan], xerr=[0.1], yerr=[0.1], fmt='o',
                           color=strain_colors[key], ms=3.5, elinewidth=1.1)
        handles.append(h)
    fig.legend(handles, names, loc='upper left', ncol=2,
               bbox_to_anchor=(legend_left[i] / W, 1 - 837 / H),
               frameon=False, fontsize=6.6, handlelength=1.2, handletextpad=1.0,
               columnspacing=2.5, labelspacing=0.45, borderpad=0, borderaxespad=0)

fig.savefig('out.png', dpi=100)
